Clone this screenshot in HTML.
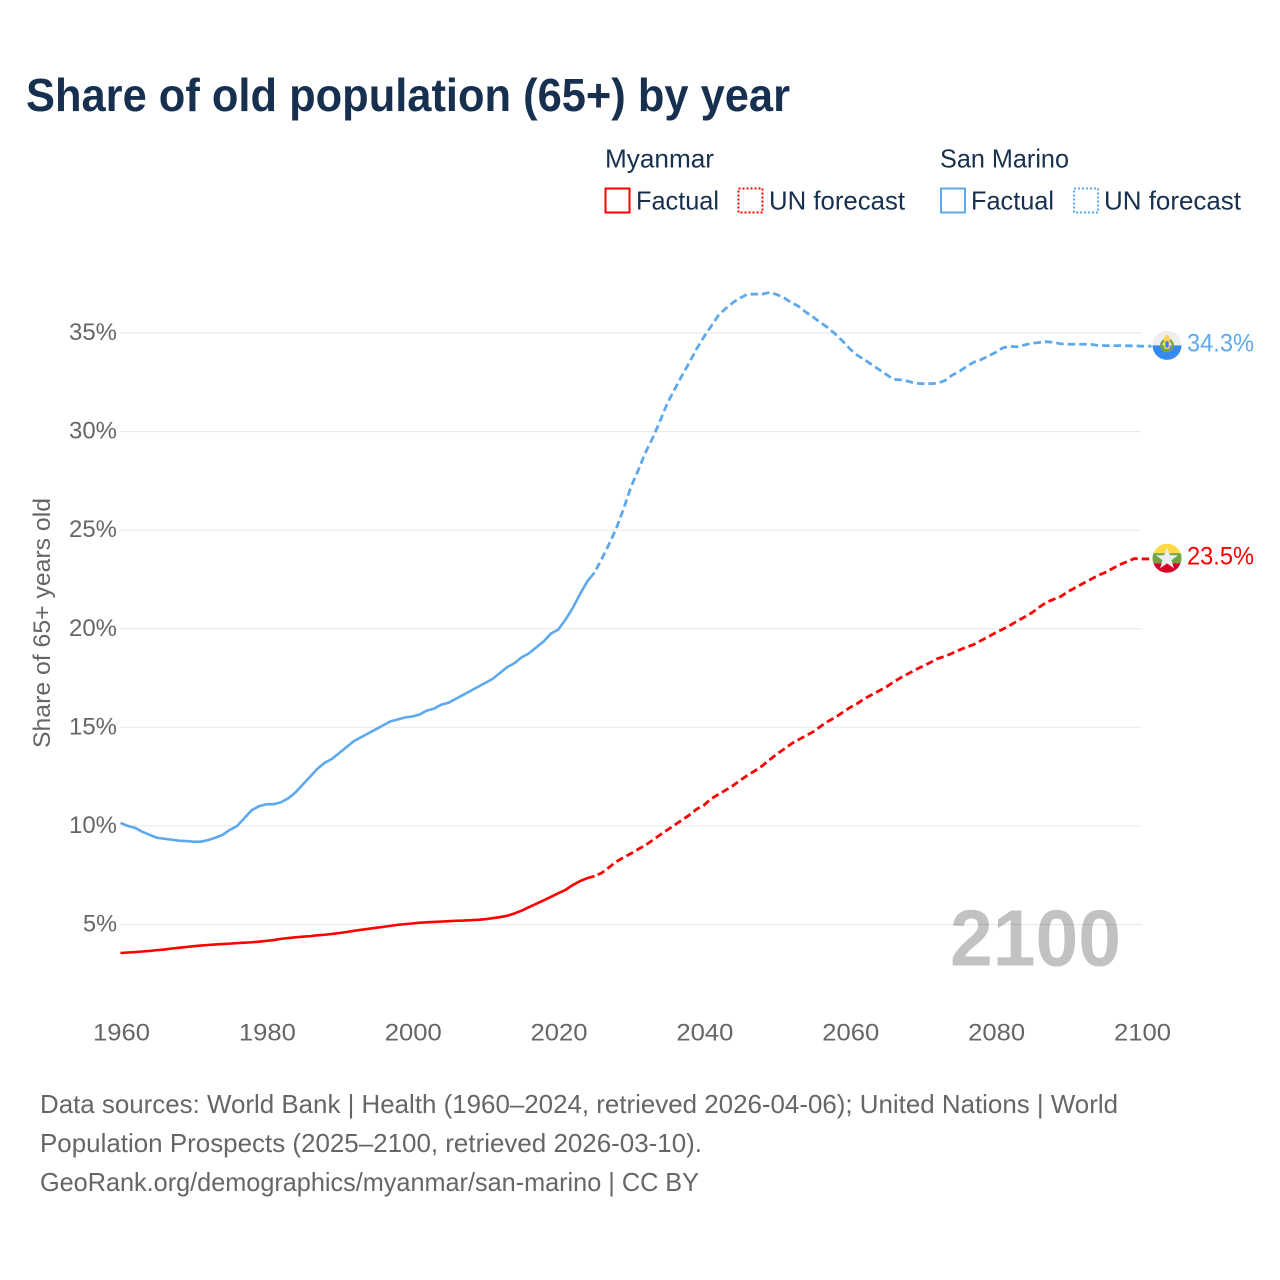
<!DOCTYPE html>
<html lang="en">
<head>
<meta charset="utf-8">
<title>Share of old population (65+) by year</title>
<style>
html,body{margin:0;padding:0;background:#fff;}
svg{display:block;font-family:"Liberation Sans",sans-serif;}
</style>
</head>
<body>
<svg id="chart" xmlns="http://www.w3.org/2000/svg" width="1280" height="1280" viewBox="0 0 1280 1280">
  <rect width="1280" height="1280" fill="#fff"/>
  <text x="26" y="111" font-size="46" font-weight="700" fill="#17304f" textLength="764" lengthAdjust="spacingAndGlyphs">Share of old population (65+) by year</text>

  <g font-size="26" fill="#17304f">
    <text x="605" y="167.5" textLength="109" lengthAdjust="spacingAndGlyphs">Myanmar</text>
    <text x="940" y="167.5" textLength="129" lengthAdjust="spacingAndGlyphs">San Marino</text>
    <rect x="605.5" y="188.5" width="24" height="24" fill="none" stroke="#ff0000" stroke-width="2"/>
    <text x="636" y="209.5" textLength="83" lengthAdjust="spacingAndGlyphs">Factual</text>
    <rect x="738.5" y="188.5" width="24" height="24" fill="none" stroke="#ff0000" stroke-width="2" stroke-dasharray="2 2"/>
    <text x="769" y="209.5" textLength="136" lengthAdjust="spacingAndGlyphs">UN forecast</text>
    <rect x="941" y="188.5" width="24" height="24" fill="none" stroke="#5ea9ee" stroke-width="2"/>
    <text x="971" y="209.5" textLength="83" lengthAdjust="spacingAndGlyphs">Factual</text>
    <rect x="1074" y="188.5" width="24" height="24" fill="none" stroke="#5ea9ee" stroke-width="2" stroke-dasharray="2 2"/>
    <text x="1104" y="209.5" textLength="137" lengthAdjust="spacingAndGlyphs">UN forecast</text>
  </g>

  <text id="year" x="950" y="965.5" font-size="80" font-weight="700" fill="#c2c2c2" textLength="171" lengthAdjust="spacingAndGlyphs">2100</text>
  <g id="grid"></g>
  <g id="yticks" font-size="24" fill="#666"></g>
  <g id="xticks" font-size="24" fill="#666"></g>
  <text transform="translate(50,748) rotate(-90)" font-size="24" fill="#666" textLength="250" lengthAdjust="spacingAndGlyphs">Share of 65+ years old</text>

  <g id="series"></g>

  <defs>
    <clipPath id="flag-clip"><circle cx="0" cy="0" r="14.5"/></clipPath>
  </defs>
  <g id="flag-sm">
    <g clip-path="url(#flag-clip)">
      <rect x="-15" y="-15" width="30" height="15" fill="#eeeeee"/>
      <rect x="-15" y="0" width="30" height="15" fill="#338af3"/>
    </g>
    <circle cx="0" cy="0" r="5.8" fill="none" stroke="#7da53c" stroke-width="2.4"/>
    <rect x="-2.4" y="-5" width="4.8" height="8" rx="1.6" fill="#338af3" stroke="#ffda44" stroke-width="1.4"/>
    <path d="M-3 -5 L-3 -8 L0 -11 L3 -8 L3 -5 Z" fill="#ffda44"/>
  </g>
  <g id="flag-mm">
    <g clip-path="url(#flag-clip)">
      <rect x="-15" y="-15" width="30" height="10" fill="#ffda44"/>
      <rect x="-15" y="-5" width="30" height="10" fill="#6da544"/>
      <rect x="-15" y="5" width="30" height="10" fill="#d80027"/>
    </g>
    <path d="M0 -11 L2.9 -3 L11 -3 L4.5 2 L6.9 10 L0 5.2 L-6.9 10 L-4.5 2 L-11 -3 L-2.9 -3 Z" fill="#eeeeee"/>
  </g>
  <text id="label-sm" x="1187" font-size="25" fill="#5ea9ee" textLength="67" lengthAdjust="spacingAndGlyphs"></text>
  <text id="label-mm" x="1187" font-size="25" fill="#ff0000" textLength="67" lengthAdjust="spacingAndGlyphs"></text>

  <g font-size="26" fill="#666">
    <text x="40" y="1113" textLength="1078" lengthAdjust="spacingAndGlyphs">Data sources: World Bank | Health (1960–2024, retrieved 2026-04-06); United Nations | World</text>
    <text x="40" y="1152" textLength="662" lengthAdjust="spacingAndGlyphs">Population Prospects (2025–2100, retrieved 2026-03-10).</text>
    <text x="40" y="1191" textLength="659" lengthAdjust="spacingAndGlyphs">GeoRank.org/demographics/myanmar/san-marino | CC BY</text>
  </g>
</svg>
<script>
const yTickValues = [5, 10, 15, 20, 25, 30, 35];
const xTickValues = [1960, 1980, 2000, 2020, 2040, 2060, 2080, 2100];
const firstYear = 1960;
const lastFactualYear = 2025;

const sanMarinoFactual = [10.15,10.0,9.9,9.7,9.55,9.4,9.35,9.3,9.25,9.23,9.2,9.2,9.28,9.4,9.55,9.8,10.0,10.4,10.8,11.0,11.1,11.1,11.2,11.4,11.7,12.1,12.5,12.9,13.2,13.4,13.7,14.0,14.3,14.5,14.7,14.9,15.1,15.3,15.4,15.5,15.55,15.65,15.85,15.95,16.15,16.25,16.45,16.65,16.85,17.05,17.25,17.45,17.75,18.05,18.25,18.55,18.75,19.05,19.35,19.75,19.95,20.45,21.05,21.75,22.4,22.85];
const sanMarinoForecast = [22.85,23.55,24.3,25.1,26.1,27.2,28.05,28.95,29.7,30.55,31.45,32.15,32.85,33.5,34.2,34.8,35.35,35.9,36.25,36.55,36.78,36.97,36.97,36.97,37.06,36.95,36.78,36.54,36.35,36.05,35.8,35.53,35.27,34.95,34.6,34.2,33.88,33.65,33.4,33.15,32.9,32.65,32.62,32.55,32.45,32.43,32.43,32.45,32.58,32.85,33.05,33.3,33.52,33.65,33.83,34.02,34.25,34.32,34.3,34.4,34.48,34.52,34.56,34.52,34.45,34.43,34.43,34.43,34.43,34.37,34.36,34.36,34.36,34.35,34.35,34.33];

const myanmarFactual = [3.55,3.58,3.6,3.63,3.66,3.7,3.73,3.78,3.82,3.86,3.9,3.93,3.96,3.99,4.01,4.03,4.06,4.08,4.1,4.13,4.17,4.21,4.27,4.31,4.35,4.38,4.41,4.45,4.48,4.52,4.57,4.62,4.68,4.73,4.78,4.83,4.88,4.93,4.98,5.02,5.05,5.09,5.11,5.13,5.15,5.17,5.19,5.2,5.22,5.24,5.27,5.32,5.37,5.44,5.56,5.7,5.88,6.05,6.22,6.4,6.58,6.75,7.0,7.2,7.35,7.45];
const myanmarForecast = [7.45,7.62,7.9,8.19,8.4,8.6,8.82,9.03,9.28,9.55,9.8,10.05,10.3,10.55,10.85,11.05,11.38,11.6,11.82,12.05,12.32,12.57,12.8,13.05,13.35,13.65,13.9,14.17,14.38,14.58,14.78,15.05,15.3,15.5,15.75,16.0,16.2,16.45,16.65,16.85,17.05,17.3,17.52,17.72,17.92,18.1,18.28,18.48,18.6,18.75,18.92,19.07,19.2,19.4,19.6,19.8,19.98,20.18,20.4,20.6,20.82,21.1,21.35,21.5,21.65,21.9,22.1,22.3,22.5,22.7,22.85,23.05,23.25,23.4,23.56,23.54];

const NS = 'http://www.w3.org/2000/svg';
function xScale(year) { return 120.5 + (year - 1960) * (1141.5 - 120.5) / 140; }
function yScale(v) { return 924.5 - (v - 5) * (924.5 - 333) / 30; }
function pathFrom(values, startYear, extend) {
  const pts = values.map((v, i) => xScale(startYear + i).toFixed(2) + ' ' + yScale(v).toFixed(2));
  if (extend) { pts.push((xScale(startYear + values.length - 1) + 10).toFixed(2) + ' ' + yScale(values[values.length - 1]).toFixed(2)); }
  return 'M' + pts.join('L');
}
function addSeries(values, startYear, color, dash, name, extend) {
  const p = document.createElementNS(NS, 'path');
  
  
  p.setAttribute('d', pathFrom(values, startYear, extend));
  p.setAttribute('fill', 'none');
  p.setAttribute('stroke', color);
  p.setAttribute('stroke-width', dash ? '2.8' : '2.6');
  p.setAttribute('stroke-linejoin', 'round');
  if (dash) {
    p.setAttribute('stroke-dasharray', dash);
    p.setAttribute('stroke-dashoffset', '8');
  }
  document.getElementById('series').appendChild(p);
}

const gridG = document.getElementById('grid');
const yG = document.getElementById('yticks');
yTickValues.forEach(function (v) {
  const l = document.createElementNS(NS, 'line');
  
  
  l.setAttribute('x1', 120.5);
  l.setAttribute('x2', 1141.5);
  l.setAttribute('y1', yScale(v));
  l.setAttribute('y2', yScale(v));
  l.setAttribute('stroke', '#000');
  l.setAttribute('stroke-opacity', '0.08');
  l.setAttribute('stroke-width', '1.2');
  gridG.appendChild(l);
  const t = document.createElementNS(NS, 'text');
  
  
  t.setAttribute('x', 117);
  t.setAttribute('y', yScale(v) + 7);
  t.setAttribute('text-anchor', 'end');
  t.setAttribute('textLength', v < 10 ? 34 : 48);
  t.setAttribute('lengthAdjust', 'spacingAndGlyphs');
  t.textContent = v + '%';
  yG.appendChild(t);
});

const xG = document.getElementById('xticks');
xTickValues.forEach(function (y) {
  const t = document.createElementNS(NS, 'text');
  
  
  t.setAttribute('x', xScale(y) + 1);
  t.setAttribute('y', 1040.5);
  t.setAttribute('text-anchor', 'middle');
  t.setAttribute('textLength', 57);
  t.setAttribute('lengthAdjust', 'spacingAndGlyphs');
  t.textContent = y;
  xG.appendChild(t);
});

addSeries(myanmarFactual, firstYear, '#ff0000', null, 'myanmar-factual-line', false);
addSeries(myanmarForecast, lastFactualYear, '#ff0000', '7.5 4', 'myanmar-forecast-line', true);
addSeries(sanMarinoFactual, firstYear, '#5ea9ee', null, 'san-marino-factual-line', false);
addSeries(sanMarinoForecast, lastFactualYear, '#5ea9ee', '7.5 4', 'san-marino-forecast-line', true);

const smEnd = sanMarinoForecast[sanMarinoForecast.length - 1];
const mmEnd = myanmarForecast[myanmarForecast.length - 1];
document.getElementById('flag-sm').setAttribute('transform', 'translate(1167,' + (yScale(smEnd) - 0.8).toFixed(1) + ')');
document.getElementById('flag-mm').setAttribute('transform', 'translate(1167,' + (yScale(mmEnd) - 0.8).toFixed(1) + ')');
const ls = document.getElementById('label-sm');
ls.setAttribute('y', yScale(smEnd) + 5.5);
ls.textContent = smEnd.toFixed(1) + '%';
const lm = document.getElementById('label-mm');
lm.setAttribute('y', yScale(mmEnd) + 5.5);
lm.textContent = mmEnd.toFixed(1) + '%';
</script>
</body>
</html>
